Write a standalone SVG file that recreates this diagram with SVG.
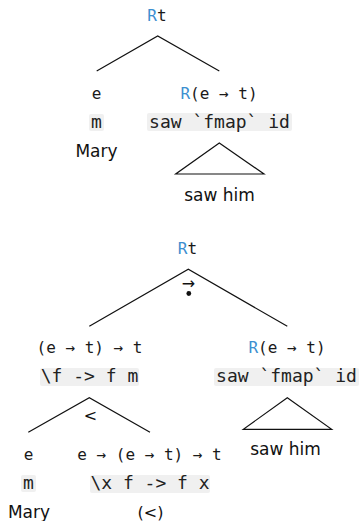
<svg xmlns="http://www.w3.org/2000/svg" width="360" height="521" viewBox="0 0 360 521">
  <style>
    .ty { font-family: "DejaVu Sans Mono", "Liberation Mono", monospace; font-size: 16px; fill: #1a1a1a; text-anchor: middle; }
    .code { font-family: "DejaVu Sans Mono", "Liberation Mono", monospace; font-size: 18px; fill: #222; text-anchor: middle; }
    .word { font-family: "DejaVu Sans", "Noto Sans", sans-serif; font-size: 17px; fill: #111; text-anchor: middle; }
    .op { font-family: "DejaVu Sans", "Noto Sans", sans-serif; font-size: 16px; fill: #111; text-anchor: middle; }
    .r { fill: #3d8fd0; }
    .box { fill: #f0f0f0; }
    .edge { stroke: #111; stroke-width: 1.2; fill: none; }
  </style>
  <rect width="360" height="521" fill="#fff"/>

  <!-- Tree 1: Mary saw him -->
  <g id="t1-root"><text class="ty" x="157" y="21"><tspan class="r">R</tspan>t</text></g>
  <g id="t1-mary">
    <text class="ty" x="96.5" y="99">e</text>
    <rect class="box" x="89" y="114" width="15" height="17" rx="2"/>
    <text class="code" x="96.5" y="128">m</text>
    <text class="word" x="96.5" y="157">Mary</text>
  </g>
  <g id="t1-vp">
    <text class="ty" x="219" y="99"><tspan class="r">R</tspan>(e → t)</text>
    <rect class="box" x="147" y="113" width="145" height="18" rx="2"/>
    <text class="code" x="219.5" y="128">saw `fmap` id</text>
  </g>
  <g id="t1-sawhim">
    <text class="word" x="219.5" y="201">saw him</text>
  </g>

  <!-- Tree 2: Mary saw him, with lowering -->
  <g id="t2-root">
    <text class="ty" x="187.5" y="254"><tspan class="r">R</tspan>t</text>
    <text class="op" x="188.5" y="289" font-size="10">→</text>
    <circle cx="188.8" cy="293.5" r="2.4" fill="#111"/>
  </g>
  <g id="t2-subj">
    <text class="ty" x="89.5" y="353">(e → t) → t</text>
    <rect class="box" x="40" y="368" width="99" height="18" rx="2"/>
    <text class="code" x="89.5" y="382">\f -&gt; f m</text>
    <text class="op" x="90.5" y="421">&lt;</text>
  </g>
  <g id="t2-vp">
    <text class="ty" x="287" y="353"><tspan class="r">R</tspan>(e → t)</text>
    <rect class="box" x="214" y="368" width="145" height="18" rx="2"/>
    <text class="code" x="286.5" y="382">saw `fmap` id</text>
  </g>
  <g id="t2-sawhim">
    <text class="word" x="285.5" y="455">saw him</text>
  </g>
  <g id="t2-mary">
    <text class="ty" x="28.5" y="460">e</text>
    <rect class="box" x="21" y="475" width="15" height="17" rx="2"/>
    <text class="code" x="28.5" y="489">m</text>
    <text class="word" x="29" y="518">Mary</text>
  </g>
  <g id="t2-lower">
    <text class="ty" x="149.5" y="460">e → (e → t) → t</text>
    <rect class="box" x="90" y="475" width="120" height="18" rx="2"/>
    <text class="code" x="150" y="489">\x f -&gt; f x</text>
    <text class="op" x="150.5" y="518">(&lt;)</text>
  </g>

  <g id="connectors">
    <polyline class="edge" points="96.7,71 157.7,36 219.3,71"/>
    <polygon class="edge" points="219.3,143 175.7,174 264,174"/>
    <polyline class="edge" points="89.3,326.3 188.3,269.3 287.3,326.3"/>
    <polyline class="edge" points="28.3,432.3 89.3,397.7 150,432.3"/>
    <polygon class="edge" points="287.3,397.7 243.3,429.3 331.7,429.3"/>
  </g>
</svg>
